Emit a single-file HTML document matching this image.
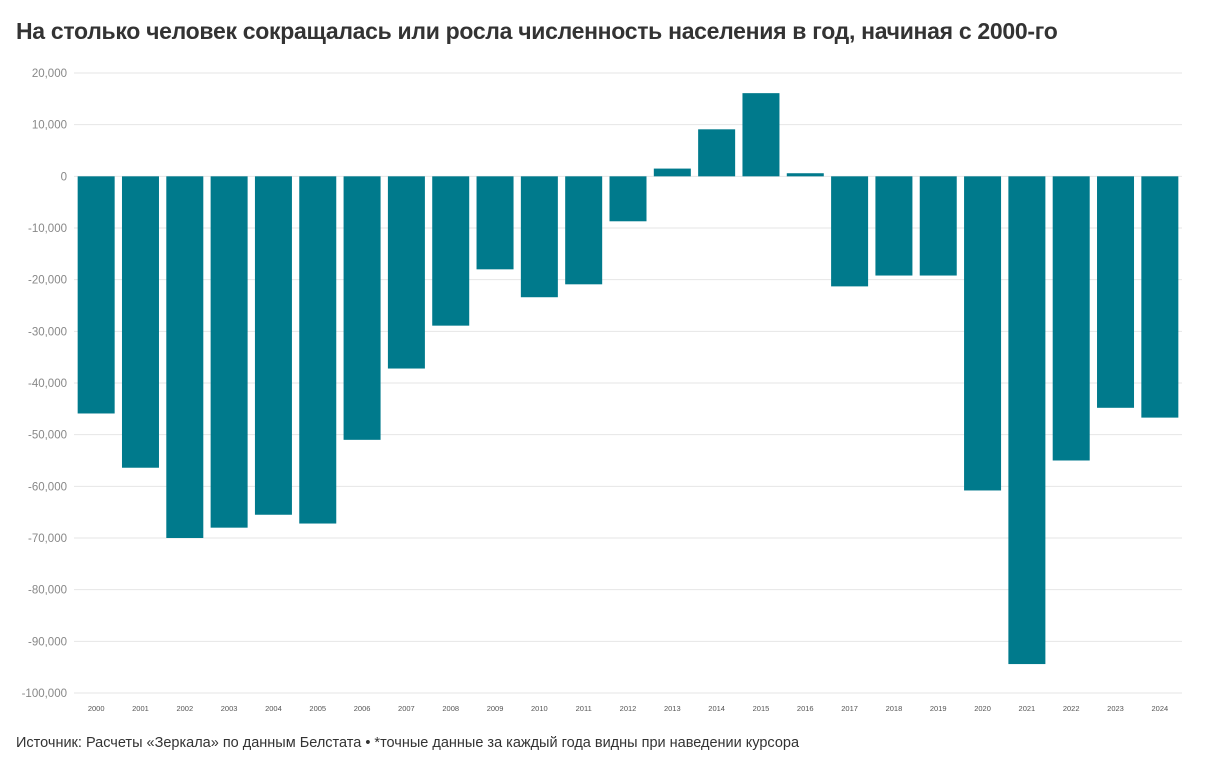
<!DOCTYPE html>
<html><head><meta charset="utf-8"><style>
body{margin:0;background:#fff;font-family:"Liberation Sans",sans-serif;}
#wrap{position:relative;width:1205px;height:768px;overflow:hidden;background:#fff}
#title{position:absolute;left:16px;top:18px;font-size:23px;font-weight:bold;color:#333;letter-spacing:-0.3px;white-space:nowrap}
#src{position:absolute;left:16px;top:735px;font-size:14.5px;color:#333;white-space:nowrap}
svg{position:absolute;left:0;top:0}
</style></head><body>
<div id="wrap">
<div id="title">На столько человек сокращалась или росла численность населения в год, начиная с 2000-го</div>
<svg id="chart" width="1205" height="768"></svg>
<div id="src">Источник: Расчеты «Зеркала» по данным Белстата • *точные данные за каждый года видны при наведении курсора</div>
</div>
<script>
const years=["2000","2001","2002","2003","2004","2005","2006","2007","2008","2009","2010","2011","2012","2013","2014","2015","2016","2017","2018","2019","2020","2021","2022","2023","2024"];
const values=[-45900,-56400,-70000,-68000,-65500,-67200,-51000,-37200,-28900,-18000,-23400,-20900,-8700,1500,9100,16100,600,-21300,-19200,-19200,-60800,-94400,-55000,-44800,-46700];
const yTicks=[20000,10000,0,-10000,-20000,-30000,-40000,-50000,-60000,-70000,-80000,-90000,-100000];
const ns="http://www.w3.org/2000/svg";
const svg=document.getElementById('chart');
const plotLeft=74,plotRight=1182,plotTop=73,plotBottom=693,yMax=20000,yMin=-100000;
const y=v=>plotTop+(yMax-v)/(yMax-yMin)*(plotBottom-plotTop);
const step=(plotRight-plotLeft)/years.length;
const x=i=>plotLeft+step*i+step/2;
const bw=37;
function mk(t,a){const e=document.createElementNS(ns,t);for(const k in a)e.setAttribute(k,a[k]);svg.appendChild(e);return e;}
yTicks.forEach(t=>{
  const l=mk('line',{x1:plotLeft,x2:plotRight,y1:y(t),y2:y(t),stroke:'#e6e6e6','stroke-width':1});
  
  
  const tx=mk('text',{x:67,y:y(t)+4,'text-anchor':'end','font-size':11.5,fill:'#888','font-family':'Liberation Sans, sans-serif'});
  tx.textContent=t.toLocaleString('en-US');
  
  
});
values.forEach((v,i)=>{
  const y0=y(0),yv=y(v);
  const r=mk('rect',{x:x(i)-bw/2,y:Math.min(y0,yv),width:bw,height:Math.abs(yv-y0),fill:'#007a8c'});
  
  
  const tx=mk('text',{x:x(i),y:711,'text-anchor':'middle','font-size':7.5,fill:'#555','font-family':'Liberation Sans, sans-serif'});
  tx.textContent=years[i];
  
  
});
</script>
</body></html>
